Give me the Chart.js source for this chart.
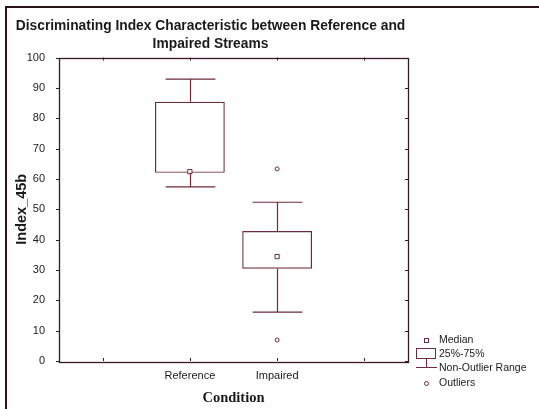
<!DOCTYPE html>
<html>
<head>
<meta charset="utf-8">
<script src="https://cdn.jsdelivr.net/npm/chart.js@4/dist/chart.umd.min.js"></script>
<style>
    html, body { margin: 0; padding: 0; background: #fff; }
    #wrap { position: relative; width: 539px; height: 409px; overflow: hidden; }
    #frame {
        position: absolute; left: 5px; top: 6px; right: -5px; bottom: -5px;
        border-left: 2px solid #2a1418; border-top: 2px solid #2a1418;
        pointer-events: none;
    }
</style>
</head>
<body>
<div id="wrap">
    <canvas id="boxChart" width="539" height="409"></canvas>
    <div id="frame"></div>
</div>
<script>
// categories (empty ones pad the axis like the original)
const categories = ['', 'Reference', 'Impaired', ''];
// box statistics per category
const q1Values = [null, 62.0, 30.4, null];
const q3Values = [null, 85.4, 42.8, null];
const medianValues = [null, 62.4, 34.4, null];
const whiskerLow = [null, 57.4, 16.1, null];
const whiskerHigh = [null, 92.9, 52.3, null];
// outliers
const outlierCats = ['Impaired', 'Impaired'];
const outlierValues = [63.3, 6.9];
const yTicks = [0, 10, 20, 30, 40, 50, 60, 70, 80, 90, 100];

const boxColor = '#6e2b3b';
const axisColor = '#3a1820';
const textColor = '#1a1a1a';
const sans = "'Liberation Sans', Arial, sans-serif";

const boxData = categories.map((c, i) => q1Values[i] == null ? null : [q1Values[i], q3Values[i]]);

const whiskerPlugin = {
    id: 'whiskers',
    afterDatasetsDraw(chart) {
        const ctx = chart.ctx;
        const x = chart.scales.x;
        const y = chart.scales.y;
        const slot = x.getPixelForValue(1) - x.getPixelForValue(0);
        const capHalf = slot * 0.285;
        ctx.save();
        ctx.strokeStyle = boxColor;
        ctx.lineWidth = 1.2;
        categories.forEach((c, i) => {
            if (whiskerLow[i] == null) return;
            const cx = Math.round(x.getPixelForValue(i)) + 0.5;
            const yLo = y.getPixelForValue(whiskerLow[i]);
            const yHi = y.getPixelForValue(whiskerHigh[i]);
            const yQ1 = y.getPixelForValue(q1Values[i]);
            const yQ3 = y.getPixelForValue(q3Values[i]);
            ctx.beginPath();
            ctx.moveTo(cx, yQ3); ctx.lineTo(cx, yHi);
            ctx.moveTo(cx - capHalf, yHi); ctx.lineTo(cx + capHalf, yHi);
            ctx.moveTo(cx, yQ1); ctx.lineTo(cx, yLo);
            ctx.moveTo(cx - capHalf, yLo); ctx.lineTo(cx + capHalf, yLo);
            ctx.stroke();
        });
        ctx.restore();
    },
    afterDraw(chart) {
        const ctx = chart.ctx;
        const a = chart.chartArea;
        const x = chart.scales.x;
        const y = chart.scales.y;
        ctx.save();
        // plot frame
        ctx.strokeStyle = axisColor;
        ctx.lineWidth = 1.3;
        ctx.strokeRect(Math.round(a.left) + 0.5, Math.round(a.top) + 0.5,
            Math.round(a.right - a.left), Math.round(a.bottom - a.top));
        // tick marks
        ctx.lineWidth = 1;
        ctx.beginPath();
        yTicks.forEach(v => {
            const py = Math.round(y.getPixelForValue(v)) + 0.5;
            ctx.moveTo(a.left - 3, py); ctx.lineTo(a.left, py);
            ctx.moveTo(a.right - 3, py); ctx.lineTo(a.right, py);
        });
        categories.forEach((c, i) => {
            const px = Math.round(x.getPixelForValue(i)) + 0.5;
            ctx.moveTo(px, a.bottom); ctx.lineTo(px, a.bottom - 3);
            ctx.moveTo(px, a.top); ctx.lineTo(px, a.top + 3);
        });
        ctx.stroke();

        // legend
        ctx.font = '10.5px ' + sans;
        ctx.textBaseline = 'middle';
        ctx.fillStyle = textColor;
        ctx.fillText('Median', 439, 340);
        ctx.fillText('25%-75%', 439, 354);
        ctx.fillText('Non-Outlier Range', 439, 368.5);
        ctx.fillText('Outliers', 439, 383.5);
        ctx.strokeStyle = boxColor;
        ctx.fillStyle = '#fff';
        ctx.lineWidth = 1;
        ctx.fillRect(424, 338, 4, 4);
        ctx.strokeRect(424.5, 338.5, 4, 4);
        ctx.strokeRect(416.5, 348.5, 19, 10);
        ctx.beginPath();
        ctx.moveTo(426.5, 358.5); ctx.lineTo(426.5, 367.5);
        ctx.moveTo(416, 367.5); ctx.lineTo(437, 367.5);
        ctx.stroke();
        ctx.beginPath();
        ctx.arc(426.5, 383.5, 2, 0, Math.PI * 2);
        ctx.stroke();
        ctx.restore();
    }
};

new Chart(document.getElementById('boxChart'), {
    type: 'bar',
    data: {
        labels: categories,
        datasets: [
            {
                label: '25%-75%',
                data: boxData,
                backgroundColor: 'rgba(255,255,255,0)',
                borderColor: boxColor,
                borderWidth: 1.2,
                borderSkipped: false,
                barPercentage: 0.8,
                categoryPercentage: 1.0,
                order: 2
            },
            {
                type: 'line',
                label: 'Median',
                data: medianValues,
                showLine: false,
                pointStyle: 'rect',
                pointRadius: 3,
                pointBorderWidth: 1,
                pointBackgroundColor: '#fff',
                pointBorderColor: boxColor,
                order: 0
            },
            {
                type: 'line',
                label: 'Outliers',
                data: outlierCats.map((c, i) => ({ x: c, y: outlierValues[i] })),
                showLine: false,
                pointStyle: 'circle',
                pointRadius: 2,
                pointBorderWidth: 1,
                pointBackgroundColor: '#fff',
                pointBorderColor: boxColor,
                order: 1
            }
        ]
    },
    options: {
        responsive: false,
        animation: false,
        events: [],
        layout: { padding: { left: 13, right: 131, top: 0, bottom: 0 } },
        plugins: {
            legend: { display: false },
            tooltip: { enabled: false },
            title: {
                display: true,
                text: ['Discriminating Index Characteristic between Reference and', 'Impaired Streams'],
                color: textColor,
                font: { family: sans, size: 13.8, weight: 'bold', lineHeight: 1.25 },
                padding: { top: 18, bottom: 5 }
            }
        },
        scales: {
            x: {
                offset: true,
                grid: { display: false },
                border: { display: false },
                ticks: { color: textColor, font: { family: sans, size: 11 }, padding: 0, maxRotation: 0, autoSkip: false },
                title: {
                    display: true,
                    text: 'Condition',
                    color: textColor,
                    font: { family: "'Liberation Serif', 'Times New Roman', serif", size: 14.5, weight: 'bold' },
                    padding: { top: 0, bottom: 2 }
                },
                afterFit: s => { s.height = 48; }
            },
            y: {
                min: 0,
                max: 100,
                grid: { display: false },
                border: { display: false },
                afterBuildTicks: s => { s.ticks = yTicks.map(v => ({ value: v })); },
                ticks: { color: textColor, font: { family: sans, size: 11 }, padding: 6 },
                title: {
                    display: true,
                    text: 'Index_45b',
                    color: textColor,
                    font: { family: sans, size: 14.5, weight: 'bold' },
                    padding: 0
                },
                afterFit: s => { s.width = 46; }
            }
        }
    },
    plugins: [whiskerPlugin]
});
</script>
</body>
</html>
